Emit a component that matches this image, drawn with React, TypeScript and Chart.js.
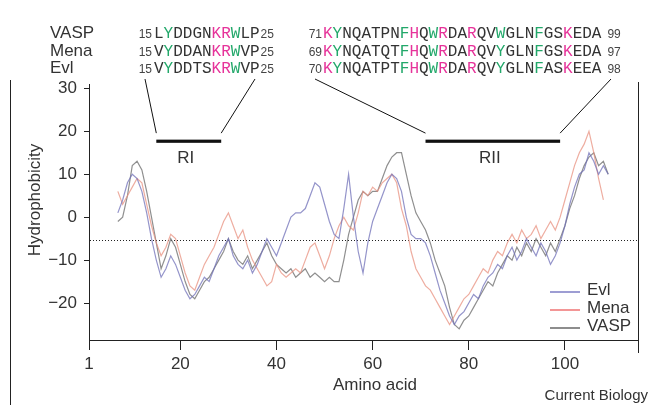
import React, { useEffect, useRef } from 'react';
import { Chart, registerables } from 'chart.js';
Chart.register(...registerables);

// ---------- data ----------
const START_RESIDUE = 7;
const evlValues = [1,4,8,10,9,6,1,-5,-10,-14,
-12,-9,-11,-14,-17,-19,-18,-16,-14,-15,
-12,-9,-7,-5,-9,-11,-12,-10,-13,-11,
-8,-5,-7,-9,-6,-3,0,1,1,2,
5,8,7,3,-1,-4,-5,2,10,0,
-8,-13,-6,-1,2,5,8,10,9,6,
0,-4,-5,-5,-6,-9,-13,-17,-20,-23,
-25,-23,-22,-20,-18,-19,-16,-14,-13,-11,
-12,-9,-7,-10,-8,-5,-7,-9,-6,-8,
-11,-9,-6,-2,3,7,10,11,15,13,
10,12,10];
const menaValues = [6,3,5,7,9,8,3,-2,-6,-9,
-7,-4,-5,-9,-13,-16,-17,-14,-11,-9,
-7,-4,-1,1,-2,-5,-3,-7,-10,-12,
-14,-16,-15,-11,-13,-14,-13,-12,-13,-10,
-7,-6,-9,-12,-9,-5,-2,0,-2,-3,
1,6,5,7,6,8,9,10,8,2,
-2,-8,-12,-14,-16,-17,-19,-21,-23,-25,
-23,-21,-19,-18,-16,-14,-12,-13,-10,-8,
-9,-6,-4,-6,-3,-5,-4,-2,-5,-3,
-1,-3,0,4,8,12,15,17,20,15,
9,4];
const vaspValues = [-1,0,5,12,13,11,6,0,-6,-12,
-9,-5,-7,-11,-15,-18,-19,-17,-15,-14,
-12,-10,-8,-5,-8,-10,-11,-9,-12,-10,
-8,-6,-9,-11,-12,-13,-12,-14,-13,-12,
-14,-13,-14,-15,-14,-15,-15,-10,-4,0,
4,6,5,6,6,9,12,14,15,15,
10,5,1,-1,-3,-6,-10,-13,-16,-21,
-25,-26,-24,-23,-21,-19,-17,-15,-16,-13,
-11,-9,-10,-7,-9,-6,-8,-5,-7,-9,
-6,-8,-5,-2,2,5,9,12,14,15,
12,13,10];

const seriesNames = ['Evl', 'Mena', 'VASP'];
const xTickValues = [1, 20, 40, 60, 80, 100];
const yTickValues = [30, 20, 10, 0, -10, -20];
const thresholdValue = -5.4;

const regionNames = ['RI', 'RII'];
const regionStarts = [15, 71];
const regionEnds = [28.5, 99];
const regionLevel = 17.7;

const seqNames = ['VASP', 'Mena', 'Evl'];
const leftSeqs = ['LYDDGNKRWLP', 'VYDDANKRWVP', 'VYDDTSKRWVP'];
const leftFrom = [15, 15, 15];
const leftTo = [25, 25, 25];
const rightSeqs = [
  'KYNQATPNFHQWRDARQVWGLNFGSKEDA',
  'KYNQATQTFHQWRDARQVYGLNFGSKEDA',
  'KYNQATPTFHQWRDARQVYGLNFASKEEA',
];
const rightFrom = [71, 69, 70];
const rightTo = [99, 97, 98];

// ---------- styles ----------
const lineColors = ['rgba(112,112,184,0.75)', 'rgba(232,146,128,0.75)', 'rgba(105,105,105,0.75)'];
const legendColors = ['#8585c8', '#f07c7c', '#707070'];
const TEXT = '#333';
const SANS = '"Liberation Sans", Arial, sans-serif';
const MONO = '"Liberation Mono", "DejaVu Sans Mono", monospace';
const MAGENTA = '#e6339a';
const GREEN = '#22a86a';

function letterColor(c: string) {
  if ('KRH'.includes(c)) return MAGENTA;
  if ('YWF'.includes(c)) return GREEN;
  return '#333';
}

export default function App() {
  const ref = useRef<HTMLCanvasElement>(null);
  useEffect(() => {
    document.body.style.margin = '0';
    const canvas = ref.current!;
    const mk = (vals: number[]) => vals.map((v, i) => ({ x: START_RESIDUE + i, y: v }));
    const allValues = [evlValues, menaValues, vaspValues];

    const decor = {
      id: 'decor',
      beforeDatasetsDraw(chart: any) {
        const { ctx, chartArea, scales } = chart;
        const yy = Math.round(scales.y.getPixelForValue(thresholdValue)) + 0.5;
        ctx.save();
        ctx.strokeStyle = '#222';
        ctx.lineWidth = 1;
        ctx.setLineDash([1, 2]);
        ctx.beginPath();
        ctx.moveTo(chartArea.left + 1, yy);
        ctx.lineTo(chartArea.right, yy);
        ctx.stroke();
        ctx.restore();
      },
      afterDraw(chart: any) {
        const { ctx, chartArea, scales } = chart;
        const xs = scales.x, ys = scales.y;
        ctx.save();
        // frame lines
        ctx.strokeStyle = '#222';
        ctx.lineWidth = 1;
        ctx.beginPath();
        ctx.moveTo(10.5, 80); ctx.lineTo(10.5, 405);
        ctx.moveTo(chartArea.right + 0.5, 82); ctx.lineTo(chartArea.right + 0.5, chartArea.bottom + 13);
        ctx.stroke();

        // region bars + connectors
        const tops = [145, 255, 315, 611];
        const yb = ys.getPixelForValue(regionLevel);
        regionNames.forEach((name, i) => {
          const x1 = xs.getPixelForValue(regionStarts[i]);
          const x2 = xs.getPixelForValue(regionEnds[i]);
          ctx.fillStyle = '#111';
          ctx.fillRect(x1, yb - 1.5, x2 - x1, 3.2);
          ctx.strokeStyle = '#111';
          ctx.lineWidth = 1;
          ctx.beginPath();
          ctx.moveTo(tops[i * 2], 79); ctx.lineTo(x1, yb - 8);
          ctx.moveTo(tops[i * 2 + 1], 79); ctx.lineTo(x2, yb - 8);
          ctx.stroke();
          ctx.fillStyle = TEXT;
          ctx.font = `17px ${SANS}`;
          ctx.textAlign = 'center';
          ctx.textBaseline = 'alphabetic';
          ctx.fillText(name, (x1 + x2) / 2 - 3, yb + 22);
        });

        // sequences header
        const baselines = [38, 56, 73];
        seqNames.forEach((name, r) => {
          const by = baselines[r];
          ctx.textBaseline = 'alphabetic';
          ctx.fillStyle = TEXT;
          ctx.font = `17px ${SANS}`;
          ctx.textAlign = 'left';
          ctx.fillText(name, 50, by);
          ctx.font = `16px ${MONO}`;
          const cw = ctx.measureText('M').width;
          // left block
          ctx.font = `12px ${SANS}`;
          ctx.fillStyle = '#444';
          ctx.textAlign = 'right';
          ctx.fillText(String(leftFrom[r]), 152, by);
          ctx.font = `16px ${MONO}`;
          ctx.textAlign = 'left';
          const ls = leftSeqs[r];
          for (let k = 0; k < ls.length; k++) {
            ctx.fillStyle = letterColor(ls[k]);
            ctx.fillText(ls[k], 154 + k * cw, by);
          }
          ctx.font = `12px ${SANS}`;
          ctx.fillStyle = '#444';
          ctx.fillText(String(leftTo[r]), 154 + ls.length * cw + 1, by);
          // right block
          ctx.textAlign = 'right';
          ctx.fillText(String(rightFrom[r]), 322, by);
          ctx.font = `16px ${MONO}`;
          ctx.textAlign = 'left';
          const rs = rightSeqs[r];
          for (let k = 0; k < rs.length; k++) {
            ctx.fillStyle = letterColor(rs[k]);
            ctx.fillText(rs[k], 323 + k * cw, by);
          }
          ctx.font = `12px ${SANS}`;
          ctx.fillStyle = '#444';
          ctx.fillText(String(rightTo[r]), 323 + rs.length * cw + 6, by);
        });

        // axis titles
        ctx.fillStyle = TEXT;
        ctx.font = `17px ${SANS}`;
        ctx.textAlign = 'center';
        ctx.textBaseline = 'middle';
        ctx.save();
        ctx.translate(35, 200);
        ctx.rotate(-Math.PI / 2);
        ctx.fillText('Hydrophobicity', 0, 0);
        ctx.restore();
        ctx.textBaseline = 'alphabetic';
        ctx.fillText('Amino acid', 375, 390);

        // legend
        seriesNames.forEach((name, i) => {
          const ly = 292 + i * 18;
          ctx.strokeStyle = legendColors[i];
          ctx.lineWidth = 1.6;
          ctx.beginPath();
          ctx.moveTo(550, ly); ctx.lineTo(580, ly);
          ctx.stroke();
          ctx.fillStyle = TEXT;
          ctx.font = `17px ${SANS}`;
          ctx.textAlign = 'left';
          ctx.textBaseline = 'middle';
          ctx.fillText(name, 587, ly - 2);
        });

        // credit
        ctx.font = `15px ${SANS}`;
        ctx.textAlign = 'right';
        ctx.textBaseline = 'alphabetic';
        ctx.fillStyle = TEXT;
        ctx.fillText('Current Biology', 648, 400);
        ctx.restore();
      },
    };

    const chart = new Chart(canvas, {
      type: 'line',
      data: {
        datasets: seriesNames.map((name, i) => ({
          label: name,
          data: mk(allValues[i]),
          borderColor: lineColors[i],
          borderWidth: 1.2,
          pointRadius: 0,
          tension: 0,
          fill: false,
        })),
      },
      options: {
        animation: false,
        responsive: false,
        layout: { padding: { top: 84, right: 12, left: 0, bottom: 0 } },
        plugins: { legend: { display: false }, tooltip: { enabled: false } },
        scales: {
          x: {
            type: 'linear',
            min: 1,
            max: 115.2,
            afterBuildTicks: (s: any) => { s.ticks = xTickValues.map((v) => ({ value: v })); },
            afterFit: (s: any) => { s.height = 65; },
            grid: { display: true, drawOnChartArea: false, drawTicks: true, tickLength: 10, color: '#222' },
            border: { display: true, color: '#222', width: 1 },
            ticks: { font: { size: 17, family: SANS }, color: TEXT, padding: 4, maxRotation: 0, autoSkip: false },
          },
          y: {
            type: 'linear',
            min: -28.6,
            max: 31,
            afterBuildTicks: (s: any) => { s.ticks = yTickValues.map((v) => ({ value: v })); },
            afterFit: (s: any) => { s.width = 89; },
            grid: { display: true, drawOnChartArea: false, drawTicks: true, tickLength: 5, color: '#222' },
            border: { display: true, color: '#222', width: 1 },
            ticks: {
              font: { size: 17, family: SANS },
              color: TEXT,
              padding: 7,
              autoSkip: false,
              callback: (v: any) => (Number(v) < 0 ? '\u2212' + Math.abs(Number(v)) : String(v)),
            },
          },
        },
      },
      plugins: [decor],
    } as any);
    return () => chart.destroy();
  }, []);
  return (
    <div style={{ width: 650, height: 405, background: '#fff' }}>
      <canvas ref={ref} width={650} height={405} style={{ display: 'block' }} />
    </div>
  );
}
